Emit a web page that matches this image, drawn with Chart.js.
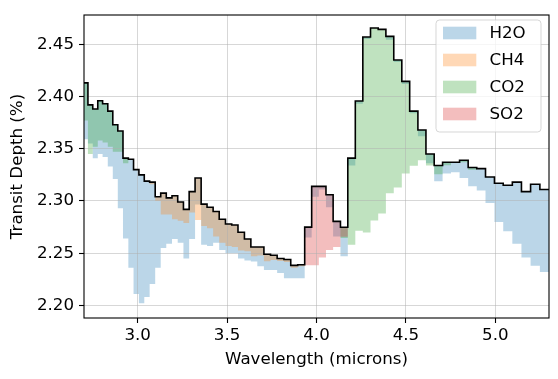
<!DOCTYPE html>
<html><head><meta charset="utf-8">
<script src="https://cdn.jsdelivr.net/npm/chart.js@4.4.0/dist/chart.umd.min.js"></script>
<style>html,body{margin:0;padding:0;background:#fff;} canvas{display:block;}</style>
</head><body>
<canvas id="c" width="558" height="379" style="width:558px;height:379px"></canvas>
<script>
// Bin edges (microns), one more than the number of bins
const wavelengthEdges = [2.695, 2.722, 2.749, 2.777, 2.804, 2.833, 2.861, 2.889, 2.918, 2.948,
  2.977, 3.007, 3.037, 3.067, 3.098, 3.129, 3.160, 3.192, 3.224, 3.256,
  3.288, 3.321, 3.355, 3.388, 3.422, 3.456, 3.491, 3.526, 3.561, 3.597,
  3.633, 3.669, 3.706, 3.743, 3.780, 3.818, 3.856, 3.895, 3.934, 3.973,
  4.013, 4.053, 4.093, 4.134, 4.175, 4.217, 4.259, 4.302, 4.345, 4.388,
  4.432, 4.477, 4.521, 4.567, 4.612, 4.658, 4.705, 4.752, 4.800, 4.848,
  4.896, 4.945, 4.995, 5.044, 5.095, 5.146, 5.197, 5.249, 5.302];

// Full model transit depth (%) per bin
const fullDepth = [2.413, 2.392, 2.388, 2.396, 2.393, 2.386, 2.373, 2.367, 2.341, 2.340,
  2.330, 2.325, 2.319, 2.318, 2.304, 2.3075, 2.303, 2.305, 2.299, 2.292,
  2.309, 2.322, 2.297, 2.294, 2.290, 2.2825, 2.278, 2.277, 2.270, 2.2636,
  2.256, 2.256, 2.249, 2.248, 2.245, 2.244, 2.2384, 2.239, 2.275, 2.314,
  2.314, 2.306, 2.2805, 2.2748, 2.341, 2.3957, 2.457, 2.4655, 2.4642, 2.4575,
  2.435, 2.4145, 2.386, 2.368, 2.345, 2.334, 2.337, 2.337, 2.339, 2.332,
  2.331, 2.323, 2.317, 2.315, 2.318, 2.309, 2.316, 2.311];

// Model without H2O
const noH2O = [2.359, 2.355, 2.341, 2.345, 2.342, 2.333, 2.321, 2.293, 2.264, 2.236,
  2.211, 2.202, 2.208, 2.2205, 2.236, 2.255, 2.259, 2.2636, 2.260, 2.245,
  2.2636, 2.2966, 2.258, 2.257, 2.260, 2.253, 2.250, 2.250, 2.245, 2.243,
  2.242, 2.2375, 2.234, 2.234, 2.231, 2.226, 2.226, 2.226, 2.265, 2.304,
  2.311, 2.294, 2.266, 2.247, 2.334, 2.393, 2.455, 2.4655, 2.4642, 2.4544,
  2.433, 2.412, 2.384, 2.362, 2.336, 2.319, 2.3264, 2.3274, 2.322, 2.314,
  2.310, 2.298, 2.280, 2.271, 2.259, 2.246, 2.238, 2.232];

// Model without CH4
const noCH4 = [2.413, 2.392, 2.388, 2.396, 2.393, 2.386, 2.373, 2.367, 2.341, 2.340,
  2.330, 2.325, 2.319, 2.316, 2.300, 2.287, 2.287, 2.2825, 2.281, 2.279,
  2.289, 2.2818, 2.276, 2.274, 2.266, 2.260, 2.257, 2.256, 2.2526, 2.252,
  2.247, 2.2478, 2.2422, 2.2434, 2.2425, 2.2415, 2.236, 2.2375, 2.275, 2.314,
  2.314, 2.306, 2.2805, 2.2748, 2.341, 2.3957, 2.457, 2.4655, 2.4642, 2.4575,
  2.435, 2.4145, 2.386, 2.368, 2.345, 2.334, 2.337, 2.337, 2.339, 2.332,
  2.331, 2.323, 2.317, 2.315, 2.318, 2.309, 2.316, 2.311];

// Model without CO2
const noCO2 = [2.377, 2.345, 2.352, 2.358, 2.356, 2.352, 2.347, 2.347, 2.336, 2.340,
  2.330, 2.325, 2.319, 2.318, 2.304, 2.3075, 2.303, 2.305, 2.299, 2.292,
  2.309, 2.322, 2.297, 2.294, 2.290, 2.2825, 2.278, 2.277, 2.270, 2.2636,
  2.256, 2.256, 2.249, 2.248, 2.245, 2.244, 2.2384, 2.239, 2.275, 2.314,
  2.314, 2.306, 2.2805, 2.2645, 2.258, 2.2714, 2.2698, 2.2812, 2.288, 2.3075,
  2.3129, 2.3264, 2.3337, 2.339, 2.334, 2.3255, 2.3343, 2.337, 2.337, 2.330,
  2.331, 2.323, 2.317, 2.315, 2.318, 2.309, 2.316, 2.311];

// Model without SO2
const noSO2 = [2.413, 2.392, 2.388, 2.396, 2.393, 2.386, 2.373, 2.367, 2.341, 2.340,
  2.330, 2.325, 2.319, 2.318, 2.304, 2.3075, 2.303, 2.305, 2.299, 2.292,
  2.309, 2.322, 2.297, 2.294, 2.290, 2.2825, 2.278, 2.277, 2.270, 2.2636,
  2.256, 2.256, 2.249, 2.248, 2.245, 2.244, 2.2384, 2.239, 2.2385, 2.2385,
  2.246, 2.253, 2.256, 2.2658, 2.341, 2.3957, 2.457, 2.4655, 2.4642, 2.4575,
  2.435, 2.4145, 2.386, 2.368, 2.345, 2.334, 2.337, 2.337, 2.339, 2.332,
  2.331, 2.323, 2.317, 2.315, 2.318, 2.309, 2.316, 2.311];

const xTicks = [3.0, 3.5, 4.0, 4.5, 5.0];
const yTicks = [2.20, 2.25, 2.30, 2.35, 2.40, 2.45];
const legendLabels = ['H2O', 'CH4', 'CO2', 'SO2'];
const molColors = ['rgba(31,119,180,0.3)', 'rgba(255,127,14,0.3)', 'rgba(44,160,44,0.3)', 'rgba(214,39,40,0.3)'];

function toPoints(vals) {
  return wavelengthEdges.map((x, i) => ({x: x, y: vals[Math.min(i, vals.length - 1)]}));
}

const FONT = {family: "'DejaVu Sans', sans-serif", size: 16.67};
Chart.defaults.font.family = "'DejaVu Sans', sans-serif";

const framePlugin = {
  id: 'frame',
  afterDatasetsDraw(chart) {
    const ctx = chart.ctx, a = chart.chartArea;
    ctx.save();
    ctx.strokeStyle = '#000';
    ctx.lineWidth = 1.1;
    ctx.strokeRect(a.left, a.top, a.right - a.left, a.bottom - a.top);
    // legend
    const lx = 436, ly = 20, lw = 105, lh = 112, r = 3.5;
    ctx.beginPath();
    ctx.moveTo(lx + r, ly);
    ctx.lineTo(lx + lw - r, ly); ctx.quadraticCurveTo(lx + lw, ly, lx + lw, ly + r);
    ctx.lineTo(lx + lw, ly + lh - r); ctx.quadraticCurveTo(lx + lw, ly + lh, lx + lw - r, ly + lh);
    ctx.lineTo(lx + r, ly + lh); ctx.quadraticCurveTo(lx, ly + lh, lx, ly + lh - r);
    ctx.lineTo(lx, ly + r); ctx.quadraticCurveTo(lx, ly, lx + r, ly);
    ctx.closePath();
    ctx.fillStyle = 'rgba(255,255,255,0.8)';
    ctx.fill();
    ctx.strokeStyle = 'rgba(204,204,204,0.8)';
    ctx.lineWidth = 1;
    ctx.stroke();
    ctx.font = "16.67px 'DejaVu Sans', sans-serif";
    ctx.textBaseline = 'middle';
    ctx.textAlign = 'left';
    for (let i = 0; i < legendLabels.length; i++) {
      const cy = 33 + 27 * i;
      ctx.fillStyle = molColors[i];
      ctx.fillRect(443, cy - 6.3, 33.3, 12.6);
      ctx.fillStyle = '#000';
      ctx.fillText(legendLabels[i], 489.5, cy + 1);
    }
    ctx.restore();
  }
};

// The full spectrum is the last dataset (index 4); each molecule fills to it.
const FULL = 4;
const base = {stepped: 'before', pointRadius: 0, borderWidth: 0, borderColor: 'rgba(0,0,0,0)', fill: FULL};
new Chart(document.getElementById('c'), {
  type: 'line',
  data: {
    datasets: [
      Object.assign({label: 'SO2', data: toPoints(noSO2), backgroundColor: molColors[3]}, base),
      Object.assign({label: 'CO2', data: toPoints(noCO2), backgroundColor: molColors[2]}, base),
      Object.assign({label: 'CH4', data: toPoints(noCH4), backgroundColor: molColors[1]}, base),
      Object.assign({label: 'H2O', data: toPoints(noH2O), backgroundColor: molColors[0]}, base),
      {label: 'Full', data: toPoints(fullDepth), borderColor: '#000', borderWidth: 1.6, stepped: 'before', pointRadius: 0, fill: false}
    ]
  },
  options: {
    responsive: false,
    animation: false,
    devicePixelRatio: 1,
    layout: {padding: {top: 11, right: 9, left: 0, bottom: 0}},
    plugins: {legend: {display: false}, tooltip: {enabled: false}, filler: {drawTime: 'beforeDraw'}},
    scales: {
      x: {
        type: 'linear', min: 2.7, max: 5.3,
        afterBuildTicks: s => { s.ticks = xTicks.map(v => ({value: v})); },
        afterFit: s => { s.height = 61; },
        ticks: {font: FONT, color: '#000', padding: 3, maxRotation: 0, autoSkip: false, callback: v => Number(v).toFixed(1)},
        grid: {color: 'rgba(176,176,176,0.5)', lineWidth: 1, tickColor: '#000', tickLength: 5, tickWidth: 1.1},
        border: {display: false},
        title: {display: true, text: 'Wavelength (microns)', font: FONT, color: '#000', padding: {top: 0, bottom: 9}}
      },
      y: {
        type: 'linear', min: 2.188, max: 2.478,
        afterBuildTicks: s => { s.ticks = yTicks.map(v => ({value: v})); },
        afterFit: s => { s.width = 84; },
        ticks: {font: FONT, color: '#000', padding: 5, autoSkip: false, callback: v => Number(v).toFixed(2)},
        grid: {color: 'rgba(176,176,176,0.5)', lineWidth: 1, tickColor: '#000', tickLength: 5, tickWidth: 1.1},
        border: {display: false},
        title: {display: true, text: 'Transit Depth (%)', font: FONT, color: '#000', padding: {top: 7.5, bottom: 0}}
      }
    }
  },
  plugins: [framePlugin]
});
</script>
</body></html>
